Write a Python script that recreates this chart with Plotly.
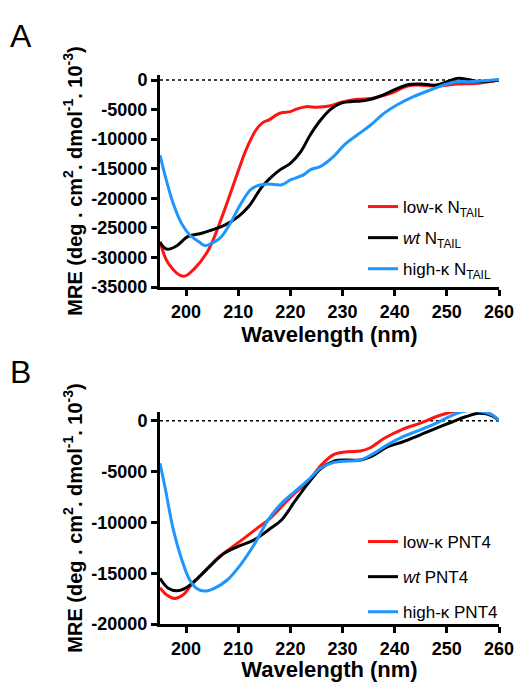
import plotly.graph_objects as go

# ---------------- Panel A data (N_TAIL) ----------------
wl_low_A = [195, 196.6, 199.5, 201.7, 204.3, 206.9, 209.4, 211.5, 213.4, 214.7, 216, 217.5, 218.5, 220, 221,
            223, 225, 227.5, 230, 233, 235.5, 238, 240, 242, 244, 248, 252, 256, 260]
mre_low_A = [-27300, -31000, -33200, -31800, -28700, -23100, -16900, -11800, -8450, -7200, -6700, -5800, -5500,
             -5350, -4950, -4500, -4600, -4400, -3700, -3270, -3100, -2600, -2000, -1130, -840, -1000, -680, -560, 0]

wl_wt_A = [195, 196.3, 198, 200.4, 203, 205, 207.5, 210, 212, 214.6, 216.5, 218, 220, 222, 223.8, 225.8, 227.7,
           229.6, 231.5, 233.5, 235.4, 237.3, 239, 242.3, 245, 248, 252, 254, 256.4, 260]
mre_wt_A = [-27500, -28600, -28150, -26450, -25900, -25350, -24500, -23100, -21400, -18000, -16300, -15200, -14100,
            -12100, -9300, -6760, -4950, -3940, -3660, -3550, -3260, -2700, -2050, -840, -680, -840, 280, 110, -280, 0]

wl_high_A = [195, 196.2, 197.5, 199.1, 200.7, 202.4, 203.6, 204.9, 206.5, 208.5, 210.4, 212.3, 213.6, 215.6, 218.4,
             220, 222.6, 223.8, 225.8, 228.3, 230.3, 232.8, 235.4, 238, 240.4, 243.6, 246.8, 250, 252, 254, 256.4, 260]
mre_high_A = [-12700, -16900, -20800, -24200, -26200, -27300, -28000, -27600, -26750, -24200, -21100, -18600, -17900,
              -17600, -17700, -16900, -16000, -15200, -14600, -12900, -11000, -9300, -7600, -5600, -4220, -2800,
              -1690, -680, -280, -280, -170, 100]

# ---------------- Panel B data (PNT4) ----------------
wl_low_B = [195, 196.3, 197.8, 199.4, 201, 203.5, 206, 208.5, 211.1, 213.6, 215.9, 218.3, 220.8, 223.4, 225.9,
            228.4, 230.9, 233.4, 235.3, 238, 241.6, 244.8, 247.9, 251.1, 253.6, 256.1, 258.7, 260]
mre_low_B = [-16430, -17150, -17480, -17150, -16170, -14860, -13540, -12560, -11570, -10590, -9700, -8460, -7140,
             -6000, -4360, -3310, -3050, -2980, -2660, -1730, -820, -260, 390, 890, 1050, 980, 560, 0]

wl_wt_B = [195, 196.6, 198.2, 200, 202.2, 204.8, 207.3, 209.8, 213, 215.9, 218.3, 220.8, 223.4, 225.9, 228.4,
           230.9, 233.4, 236, 238.5, 241.6, 244.8, 247.9, 251.1, 253.6, 256.1, 258.7, 260]
mre_wt_B = [-15500, -16490, -16730, -16430, -15500, -14200, -13050, -12400, -11740, -10700, -9770, -7970, -6160,
            -4680, -3970, -3870, -3870, -3380, -2600, -2070, -1410, -750, -100, 390, 730, 490, 0]

wl_high_B = [195, 196, 197.5, 199.1, 200.7, 202.2, 203.5, 205.4, 207.9, 210.4, 213, 215.8, 218.3, 220.8, 223.4,
             225.9, 228.4, 230.9, 233.4, 236, 238.5, 241.6, 244.8, 247.9, 251.1, 253.6, 256.1, 258.7, 260]
mre_high_B = [-4190, -6650, -10590, -13540, -15670, -16560, -16760, -16490, -15670, -14200, -12230, -9700, -8130,
              -6990, -5840, -4620, -4100, -3970, -3870, -3210, -2400, -1570, -920, -260, 560, 960, 960, 560, 0]

x_ticks = [200, 210, 220, 230, 240, 250, 260]
yA_ticks = [0, -5000, -10000, -15000, -20000, -25000, -30000, -35000]
yB_ticks = [0, -5000, -10000, -15000, -20000]
yA_labels = ["0", "-5000", "-10000", "-15000", "-20000", "-25000", "-30000", "-35000"]
yB_labels = ["0", "-5000", "-10000", "-15000", "-20000"]

RED = "#FF1414"
BLACK = "#000000"
BLUE = "#1E96FF"
FONT = "Liberation Sans, Arial, sans-serif"

fig = go.Figure()

seriesA = [
    (wl_low_A, mre_low_A, RED, "low-κ N<sub>TAIL</sub>"),
    (wl_wt_A, mre_wt_A, BLACK, "<i>wt</i> N<sub>TAIL</sub>"),
    (wl_high_A, mre_high_A, BLUE, "high-κ N<sub>TAIL</sub>"),
]
seriesB = [
    (wl_low_B, mre_low_B, RED, "low-κ PNT4"),
    (wl_wt_B, mre_wt_B, BLACK, "<i>wt</i> PNT4"),
    (wl_high_B, mre_high_B, BLUE, "high-κ PNT4"),
]

for i, (x, y, c, name) in enumerate(seriesA):
    fig.add_trace(go.Scatter(x=x, y=y, mode="lines", name=name, line=dict(color=c, width=3, shape="spline"),
                             xaxis="x", yaxis="y", legend="legend", legendgroup=f"a{i}"))
for i, (x, y, c, name) in enumerate(seriesB):
    fig.add_trace(go.Scatter(x=x, y=y, mode="lines", name=name, line=dict(color=c, width=3, shape="spline"),
                             xaxis="x2", yaxis="y2", legend="legend2", legendgroup=f"b{i}"))

axis_common = dict(showline=True, linecolor="black", linewidth=3, ticks="outside", ticklen=6, tickwidth=2.5,
                   tickcolor="black", showgrid=False, zeroline=False, ticklabeloverflow="allow",
                   automargin=False,
                   tickfont=dict(family=FONT, size=18, color="black", weight="bold"))

ytitle = "MRE (deg . cm<sup>2</sup>. dmol<sup>-1</sup>. 10<sup>-3</sup>)"
xtitle = "Wavelength (nm)"
xtitle_font = dict(family=FONT, size=22, color="black", weight="bold")
ytitle_font = dict(family=FONT, size=20, color="black", weight="bold")
legend_font = dict(family=FONT, size=17, color="black")

fig.update_layout(
    width=515, height=682,
    margin=dict(l=0, r=0, t=0, b=0, autoexpand=False),
    paper_bgcolor="white", plot_bgcolor="white",
    showlegend=True,
    xaxis=dict(domain=[160 / 515, 499 / 515], range=[195, 260], tickvals=x_ticks, anchor="y",
               title=dict(text=xtitle, font=xtitle_font, standoff=4), **axis_common),
    yaxis=dict(domain=[1 - 287 / 682, 1 - 75 / 682], range=[-35000, 850], tickvals=yA_ticks, ticktext=yA_labels,
               anchor="x", title=dict(text=ytitle, font=ytitle_font, standoff=4), **axis_common),
    xaxis2=dict(domain=[160 / 515, 499 / 515], range=[195, 260], tickvals=x_ticks, anchor="y2",
                title=dict(text=xtitle, font=xtitle_font, standoff=4), **axis_common),
    yaxis2=dict(domain=[1 - 624 / 682, 1 - 412 / 682], range=[-20000, 860], tickvals=yB_ticks, ticktext=yB_labels,
                anchor="x2", title=dict(text=ytitle, font=ytitle_font, standoff=4), **axis_common),
    legend=dict(x=363 / 515, y=1 - 189 / 682, xanchor="left", yanchor="top", bgcolor="rgba(0,0,0,0)",
                font=legend_font, tracegroupgap=6, traceorder="grouped", itemwidth=30),
    legend2=dict(x=363 / 515, y=1 - 524 / 682, xanchor="left", yanchor="top", bgcolor="rgba(0,0,0,0)",
                 font=legend_font, tracegroupgap=10, traceorder="grouped", itemwidth=30),
    shapes=[
        dict(type="line", xref="x", yref="y", x0=195, x1=260, y0=0, y1=0,
             line=dict(color="black", width=1.5, dash="dot"), layer="below"),
        dict(type="line", xref="x2", yref="y2", x0=195, x1=260, y0=0, y1=0,
             line=dict(color="black", width=1.5, dash="dot"), layer="below"),
    ],
    annotations=[
        dict(text="A", xref="paper", yref="paper", x=8 / 515, y=1 - 16 / 682, xanchor="left", yanchor="top",
             showarrow=False, font=dict(family=FONT, size=32, color="black")),
        dict(text="B", xref="paper", yref="paper", x=8 / 515, y=1 - 352 / 682, xanchor="left", yanchor="top",
             showarrow=False, font=dict(family=FONT, size=32, color="black")),
    ],
)

fig.write_html("out.html")
